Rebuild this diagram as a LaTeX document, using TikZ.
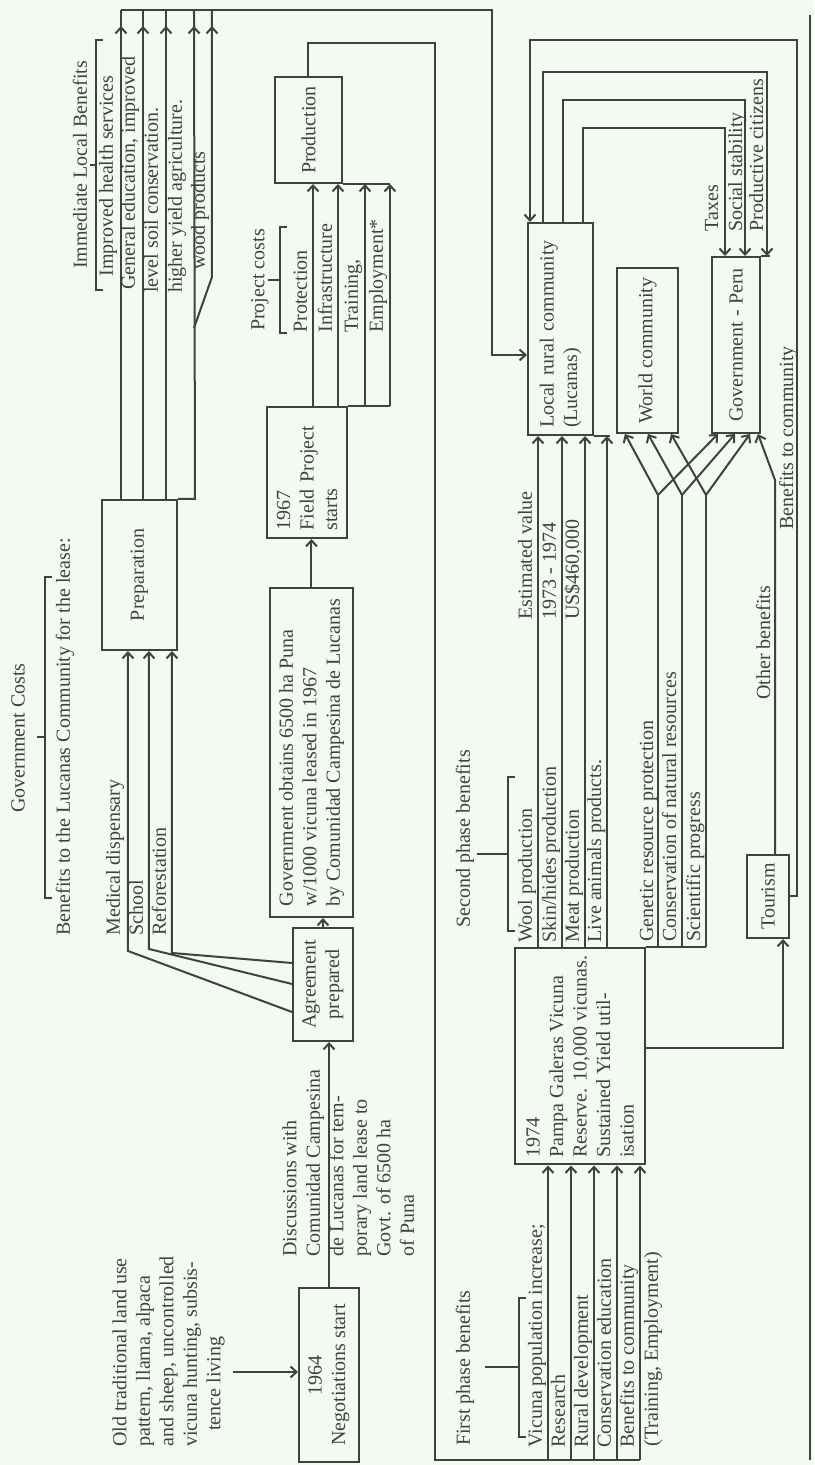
\documentclass[tikz,border=0pt]{standalone}
\usepackage{fontspec}
\setmainfont{Liberation Serif}
\usetikzlibrary{arrows.meta,decorations.markings}
\definecolor{ink}{HTML}{3E433E}
\definecolor{paper}{HTML}{F4F9F1}

\tikzset{
  wire/.style={draw=ink, line width=1pt},
  arr/.style={wire, -{Straight Barb[length=3pt,width=5.5pt]}},
  tipnear/.style={postaction=decorate,
    decoration={markings, mark=at position -8pt with
      {\arrow[ink, line width=1pt]{Straight Barb[length=3pt,width=5.5pt]}}}},
  box/.style={draw=ink, line width=1pt, inner sep=3.5pt},
  lbl/.style={inner sep=0pt, anchor=west, text height=0.7em, text depth=0.2em},
}

\begin{document}
\begin{tikzpicture}[rotate=90, transform shape, x=0.5pt, y=0.5pt,
    font=\fontsize{10}{11.75}\selectfont, every node/.append style={text=ink}]
  \path[use as bounding box, fill=paper] (0,0) rectangle (1465,814);

  % boxes, laid out landscape and turned by the picture
  \node[box, minimum width=87pt, minimum height=30pt, align=center] (neg) at (90,485)
    {1964\\ Negotiations start};
  \node[box, minimum width=56.5pt, minimum height=30pt, align=center] (agree) at (480.5,491)
    {Agreement\\ prepared};
  \node[box, inner xsep=2pt, minimum width=164.5pt, minimum height=41.5pt, align=left] (govt) at (712.5,502.5)
    {Government obtains 6500 ha Puna\\ w/1000 vicuna leased in 1967\\ by Comunidad Campesina de Lucanas};
  \node[box, minimum width=65.5pt, minimum height=40pt, text width=58pt, align=left] (field) at (992.5,507)
    {1967\\ Field Project\\ starts};
  \node[box, minimum width=53pt, minimum height=33.5pt] (prod) at (1335,505.5) {Production};
  \node[box, minimum width=75pt, minimum height=37.5pt] (prep) at (890,674.5) {Preparation};
  \node[box, minimum width=106pt, minimum height=32.5pt, text width=99pt, align=left] (local) at (1136,253.5)
    {Local rural community\\ (Lucanas)};
  \node[box, minimum width=82.5pt, minimum height=30.5pt] (world) at (1114.5,166.5) {World community};
  \node[box, minimum width=88pt, minimum height=24pt] (gov) at (1120,78) {Government - Peru};
  \node[box, inner xsep=2pt, minimum width=108pt, minimum height=65pt, align=left] (pampa) at (408.5,234)
    {1974\\ Pampa Galeras Vicuna\\ Reserve. 10,000 vicunas.\\ Sustained Yield util-\\ isation};
  \node[box, minimum width=41.5pt, minimum height=21pt] (tour) at (568.5,46) {Tourism};

  % free text
  \node[inner sep=0pt, anchor=north west, align=left] (oldtxt) at (18,702)
    {Old traditional land use\\ pattern, llama, alpaca\\ and sheep, uncontrolled\\
     vicuna hunting, subsis-\\ \hspace{8pt}tence living};
  \node[inner sep=0pt, anchor=north west, align=left] (disc) at (208,532)
    {Discussions with\\ Comunidad Campesina\\ de Lucanas for tem-\\
     porary land lease to\\ Govt. of 6500 ha\\ of Puna};

  \node (gcost) at (727,796) {Government Costs};
  \node[lbl] (lease) at (529,749) {Benefits to the Lucanas Community for the lease:};
  \node[lbl] (med) at (529,699) {Medical dispensary};
  \node[lbl] (school) at (529,676) {School};
  \node[lbl] (refor) at (529,653) {Reforestation};

  \node (imm) at (1300,734) {Immediate Local Benefits};
  \node[lbl] (health) at (1188,706) {Improved health services};
  \node[lbl] (educ) at (1175,684) {General education, improved};
  \node[lbl] (soil) at (1172,661) {level soil conservation.};
  \node[lbl] (agri) at (1172,637) {higher yield agriculture.};
  \node[lbl] (wood) at (1195,614) {wood products};

  \node (pcost) at (1185,554) {Project costs};
  \node[lbl] (protect) at (1132,512) {Protection};
  \node[lbl] (infra) at (1132,487) {Infrastructure};
  \node[lbl] (train) at (1132,461) {Training,};
  \node[lbl] (employ) at (1132,436) {Employment*};

  \node (first) at (97,349) {First phase benefits};
  \node[lbl] (vicpop) at (17,277) {Vicuna population increase;};
  \node[lbl] (research) at (17,254) {Research};
  \node[lbl] (rural) at (17,231) {Rural development};
  \node[lbl] (conseduc) at (17,208) {Conservation education};
  \node[lbl] (benef) at (17,185) {Benefits to community};
  \node[lbl] (benef2) at (18,161) {(Training, Employment)};

  \node (second) at (626,349) {Second phase benefits};
  \node[lbl] (wool) at (522,287) {Wool production};
  \node[lbl] (skin) at (522,263) {Skin/hides production};
  \node[lbl] (meat) at (522,240) {Meat production};
  \node[lbl] (live) at (522,218) {Live animals products.};
  \node[lbl] (estval) at (845,287) {Estimated value};
  \node[lbl] (years) at (845,263) {1973 - 1974};
  \node[lbl] (usd) at (845,240) {US\$460,000};
  \node[lbl] (genet) at (523,166) {Genetic resource protection};
  \node[lbl] (consnat) at (523,143) {Conservation of natural resources};
  \node[lbl] (science) at (523,119) {Scientific progress};

  \node[lbl] (taxes) at (1233,101) {Taxes};
  \node[lbl] (social) at (1233,77) {Social stability};
  \node[lbl] (citizens) at (1233,56) {Productive citizens};
  \node[lbl] (benlocal) at (935,26) {Benefits to community};
  \node[lbl] (other) at (765,49) {Other benefits};

  % brackets under the group headings
  \foreach \xa/\xb/\yy/\tk in {1175/1425/718/6, 567/888/769/8, 1132/1238/534/12,
                               28/167/295/34, 534/688/306/31} {
    \draw[wire] (\xa,\yy-7) -- (\xa,\yy) -- (\xb,\yy) -- (\xb,\yy-7);
    \draw[wire] ({(\xa+\xb)/2},\yy) -- ++(0,\tk);
  }

  % lease chain
  \coordinate (oldend) at (93,581);
  \draw[arr] (oldend) -- (oldend |- neg.north);
  \draw[arr] (neg.east) -- (agree.west |- neg.east);
  \draw[arr] (agree.east) -- (govt.west |- agree.east);
  \draw[arr] (govt.east) -- (field.west |- govt.east);

  % agreement -> preparation
  \draw[arr] ([xshift=15pt]agree.north west) -- (514,686) -- (prep.west |- 0,686);
  \draw[arr] ([xshift=29pt]agree.north west) -- (516,665) -- (prep.west |- 0,665);
  \draw[arr] ([xshift=39.5pt]agree.north west) -- (512,642) -- (prep.west |- 0,642);

  % preparation -> immediate benefits -> local community
  \foreach \yy in {693,671,648}
    \draw[wire, tipnear] (prep.east |- 0,\yy) -- (1455,\yy);
  \draw[wire, tipnear] (prep.south east) -- ++(0,-17) -- (1455,620);
  \draw[wire, tipnear] (1137,620) -- (1188,602) -- (1455,602);
  \draw[arr] (1455,693) -- (1455,322) -- (1110,322) -- (local.north -| 1110,0);

  % field project -> production
  \foreach \yy in {501,476,449,424}
    \draw[arr] (field.east |- 0,\yy) -- (prod.west |- 0,\yy);
  \draw[wire] (field.south east) -- (field.east |- 0,424);
  \draw[wire] (prod.south west) -- (prod.west |- 0,424);

  % production -> first phase benefits -> reserve
  \draw[wire] (prod.east) -- (1422,505.5) |- (5,379) -- (5,174);
  \foreach \yy in {266,243,220,197,174}
    \draw[arr] (5,\yy) -- (pampa.west |- 0,\yy);

  % second phase benefits
  \foreach \yy in {276,252,229,207}
    \draw[arr] (pampa.east |- 0,\yy) -- (local.west |- 0,\yy);
  \draw[wire] (local.south west) -- (local.west |- 0,204);

  % wider benefits, each forking to world and government
  \draw[wire] (pampa.south east) -- (pampa.east |- 0,108);
  \foreach \yy/\yw/\yg in {156/189/96, 132/166/79, 108/143/64} {
    \draw[wire] (pampa.east |- 0,\yy) -- (970,\yy);
    \draw[arr] (970,\yy) -- (world.west |- 0,\yw);
    \draw[arr] (970,\yy) -- (gov.west |- 0,\yg);
  }

  % local community -> government
  \foreach \ya/\xb/\yc in {271/1393/47, 251/1365/69, 231/1337/89}
    \draw[arr] (local.east |- 0,\ya) -| (\xb,\yc) -- (gov.east |- 0,\yc);
  \draw[wire] (gov.south east) -- (gov.east |- 0,44);

  % tourism
  \draw[arr] (pampa.south -| 417,0) |- (tour.west |- 0,31);
  \draw[arr] (tour.east |- 0,39) -- (985,39) -- (gov.west |- 0,56);
  \draw[arr] (tour.south) |- (1425,17) |- (local.east |- 0,284);

  % page edge
  \draw[wire] (5,4) -- (1450,4);
\end{tikzpicture}
\end{document}
